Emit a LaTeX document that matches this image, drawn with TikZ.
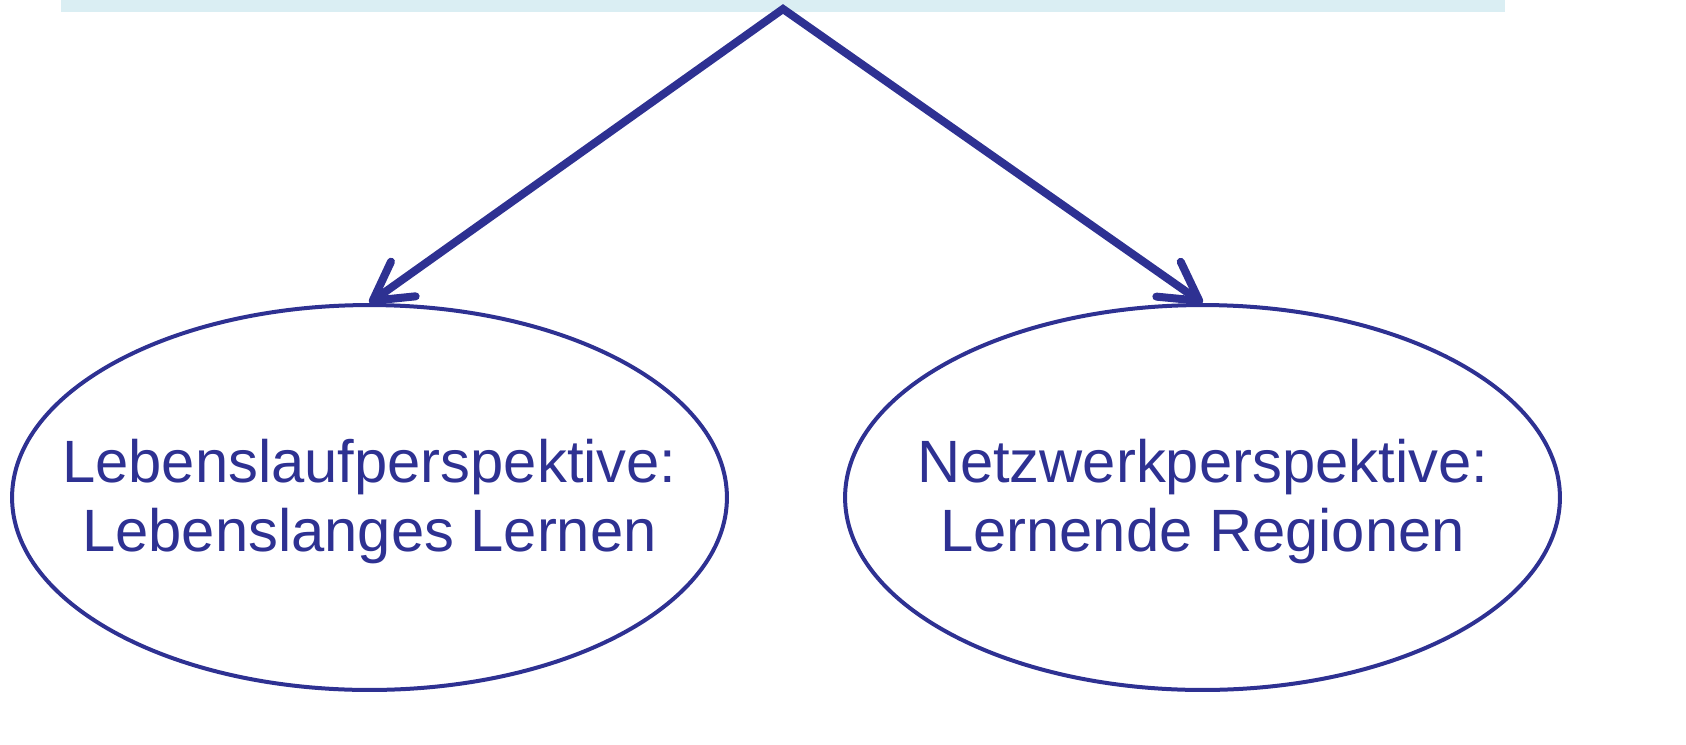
\documentclass[tikz,border=0pt]{standalone}
\usepackage{fontspec}
\setmainfont{Liberation Sans}
\usetikzlibrary{arrows.meta,shapes.geometric,positioning}
\definecolor{darkblue}{HTML}{2E3192}
\definecolor{paleblue}{HTML}{DAEEF3}
\tikzset{
	persp/.style={
		ellipse,
		draw=darkblue,
		line width=0.08cm,
		minimum width=14.3cm,
		minimum height=7.7cm,
		inner sep=0pt,
	},
	persptext/.style={
		text=darkblue,
		align=center,
		inner sep=0pt,
		font=\fontsize{34}{39.3}\selectfont,
	},
	topbar/.style={
		rectangle,
		fill=paleblue,
		minimum width=28.88cm,
		minimum height=0.24cm,
		inner sep=0pt,
	},
	arc/.style={
		draw=darkblue,
		line width=0.16cm,
		line join=miter,
		{Straight Barb[length=0.75cm,width=0.85cm,round]}-{Straight Barb[length=0.75cm,width=0.85cm,round]},
	}
}

\begin{document}
\begin{tikzpicture}[x=0.02cm,y=-0.02cm]
	\useasboundingbox (0,0) rectangle (1686,744);
	\node [topbar] (top) at (783,6) {};
	\coordinate (apex) at (783,9);
	\node [persp] (lebens) at (369.5,497.5) {};
	\node [persptext, yshift=-0.09cm] (lebenstext) at (lebens.center)
	  {Lebenslaufperspektive:\\Lebenslanges Lernen};
	\node [persp] (netz) at (1202.5,497.5) {};
	\node [persptext, yshift=-0.09cm] (netztext) at (netz.center)
	  {Netzwerkperspektive:\\Lernende Regionen};

	\draw[arc] (lebens.north) -- (apex) -- (netz.north);
\end{tikzpicture}
\end{document}
